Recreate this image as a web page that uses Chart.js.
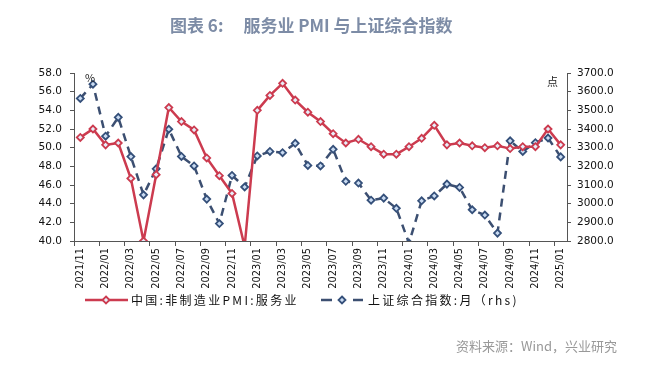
<!DOCTYPE html>
<html>
<head>
<meta charset="utf-8">
<script src="https://cdn.jsdelivr.net/npm/chart.js@4/dist/chart.umd.min.js"></script>
<style>
  html, body { margin: 0; padding: 0; background: #fff; }
  #wrap { position: relative; width: 659px; height: 365px; overflow: hidden; }
  #myChart { position: absolute; left: 0; top: 0; }
  .txt { position: absolute; white-space: nowrap; font-family: "Noto Sans CJK SC", sans-serif; }
  #title { left: 170px; top: 12px; font-size: 17px; font-weight: bold; color: #7d8ca6; }
  #title span { margin-left: 20px; }
  #source { right: 42px; top: 336px; font-size: 13px; color: #999; }
  .unit { font-size: 11px; color: #222; }
  .leg { top: 291px; font-size: 12px; letter-spacing: 2.3px; color: #111; }
  .legMark { position: absolute; }
</style>
</head>
<body>
<div id="wrap">
  <canvas id="myChart" width="659" height="365"></canvas>
  <div id="title" class="txt">图表 6:<span>服务业 PMI 与上证综合指数</span></div>
  <div class="txt unit" style="left:85px; top:69px;">%</div>
  <div class="txt unit" style="left:547px; top:73px;">点</div>
  <svg class="legMark" style="left:84px; top:294px;" width="46" height="12">
    <line x1="1" y1="6" x2="44" y2="6" stroke="#cc3b4f" stroke-width="2.5"/>
    <polygon points="22,2.5 25.5,6 22,9.5 18.5,6" fill="#e6eef9" stroke="#cc3b4f" stroke-width="1.8"/>
  </svg>
  <div class="txt leg" style="left:131px;">中国:非制造业PMI:服务业</div>
  <svg class="legMark" style="left:320px; top:294px;" width="46" height="12">
    <line x1="1" y1="6" x2="12" y2="6" stroke="#3c4f71" stroke-width="2.5"/>
    <line x1="33" y1="6" x2="43" y2="6" stroke="#3c4f71" stroke-width="2.5"/>
    <polygon points="22,2.5 25.5,6 22,9.5 18.5,6" fill="#c9dbf2" stroke="#35507a" stroke-width="1.8"/>
  </svg>
  <div class="txt leg" style="left:368px;">上证综合指数:月（rhs)</div>
  <div id="source" class="txt">资料来源：Wind，兴业研究</div>
</div>
<script>
const months = [
  "2021/11", "2021/12",
  "2022/01", "2022/02", "2022/03", "2022/04", "2022/05", "2022/06",
  "2022/07", "2022/08", "2022/09", "2022/10", "2022/11", "2022/12",
  "2023/01", "2023/02", "2023/03", "2023/04", "2023/05", "2023/06",
  "2023/07", "2023/08", "2023/09", "2023/10", "2023/11", "2023/12",
  "2024/01", "2024/02", "2024/03", "2024/04", "2024/05", "2024/06",
  "2024/07", "2024/08", "2024/09", "2024/10", "2024/11", "2024/12",
  "2025/01"
];

const servicesPmi = [
  51.1, 52.0, 50.3, 50.5, 46.7, 40.0, 47.1, 54.3, 52.8, 51.9, 48.9, 47.0,
  45.1, 39.4, 54.0, 55.6, 56.9, 55.1, 53.8, 52.8, 51.5, 50.5, 50.9, 50.1,
  49.3, 49.3, 50.1, 51.0, 52.4, 50.3, 50.5, 50.2, 50.0, 50.2, 49.9, 50.1,
  50.1, 52.0, 50.3
];

const shComposite = [
  3563.9, 3639.8, 3361.4, 3462.3, 3252.2, 3047.1, 3186.4, 3398.6, 3253.2,
  3202.1, 3024.4, 2893.5, 3151.3, 3089.3, 3255.7, 3279.6, 3272.9, 3323.3,
  3204.6, 3202.1, 3291.0, 3119.9, 3110.5, 3018.8, 3029.7, 2974.9, 2788.6,
  3015.2, 3041.2, 3104.8, 3086.8, 2967.4, 2938.8, 2842.2, 3336.5, 3279.8,
  3326.5, 3351.8, 3250.6
];

const leftTicks = { min: 40, max: 58, step: 2 };
const rightTicks = { min: 2800, max: 3700, step: 100 };

const red = "#cc3b4f";
const navy = "#3c4f71";
const axisColor = "#555";
const tickFont = { family: "DejaVu Sans", size: 10.5 };

const ctx = document.getElementById("myChart");

new Chart(ctx, {
  type: "line",
  data: {
    labels: months,
    datasets: [
      {
        label: "中国:非制造业PMI:服务业",
        data: servicesPmi,
        yAxisID: "y",
        borderColor: red,
        borderWidth: 2.5,
        tension: 0,
        pointStyle: "rectRot",
        pointRadius: 3.5,
        pointBorderWidth: 1.8,
        pointBorderColor: red,
        pointBackgroundColor: "#e6eef9",
        order: 1,
      },
      {
        label: "上证综合指数:月（rhs)",
        data: shComposite,
        yAxisID: "y1",
        borderColor: navy,
        borderWidth: 2.5,
        borderDash: [8, 6],
        tension: 0,
        pointStyle: "rectRot",
        pointRadius: 3.5,
        pointBorderWidth: 1.8,
        pointBorderColor: "#35507a",
        pointBackgroundColor: "#c9dbf2",
        order: 2,
      },
    ],
  },
  options: {
    responsive: false,
    animation: false,
    layout: { padding: { left: 0, right: 0, top: 73, bottom: 69 } },
    plugins: {
      legend: { display: false },
      tooltip: { enabled: false },
    },
    scales: {
      x: {
        offset: true,
        grid: {
          offset: true,
          drawOnChartArea: false,
          drawTicks: true,
          tickLength: 5,
          color: (c) => (c.index % 2 === 0 ? axisColor : "rgba(0,0,0,0)"),
        },
        border: { display: true, color: axisColor, width: 1 },
        ticks: {
          autoSkip: false,
          minRotation: 90,
          maxRotation: 90,
          padding: 2,
          color: "#111",
          font: { family: "DejaVu Sans", size: 9.8 },
          callback: function (val, i) {
            return i % 2 === 0 ? this.getLabelForValue(val) : "";
          },
        },
        afterFit: (scale) => { scale.height = 55; },
      },
      y: {
        position: "left",
        min: leftTicks.min,
        max: leftTicks.max,
        grid: { drawOnChartArea: false, tickLength: 4, color: axisColor },
        border: { display: true, color: axisColor, width: 1 },
        ticks: {
          stepSize: leftTicks.step,
          padding: 8,
          color: "#111",
          font: tickFont,
          callback: (v) => v.toFixed(1),
        },
        afterFit: (scale) => { scale.width = 74; },
      },
      y1: {
        position: "right",
        min: rightTicks.min,
        max: rightTicks.max,
        grid: { drawOnChartArea: false, tickLength: 4, color: axisColor },
        border: { display: true, color: axisColor, width: 1 },
        ticks: {
          stepSize: rightTicks.step,
          padding: 6,
          color: "#111",
          font: tickFont,
          callback: (v) => v.toFixed(1),
        },
        afterFit: (scale) => { scale.width = 92; },
      },
    },
  },
});
</script>
</body>
</html>
